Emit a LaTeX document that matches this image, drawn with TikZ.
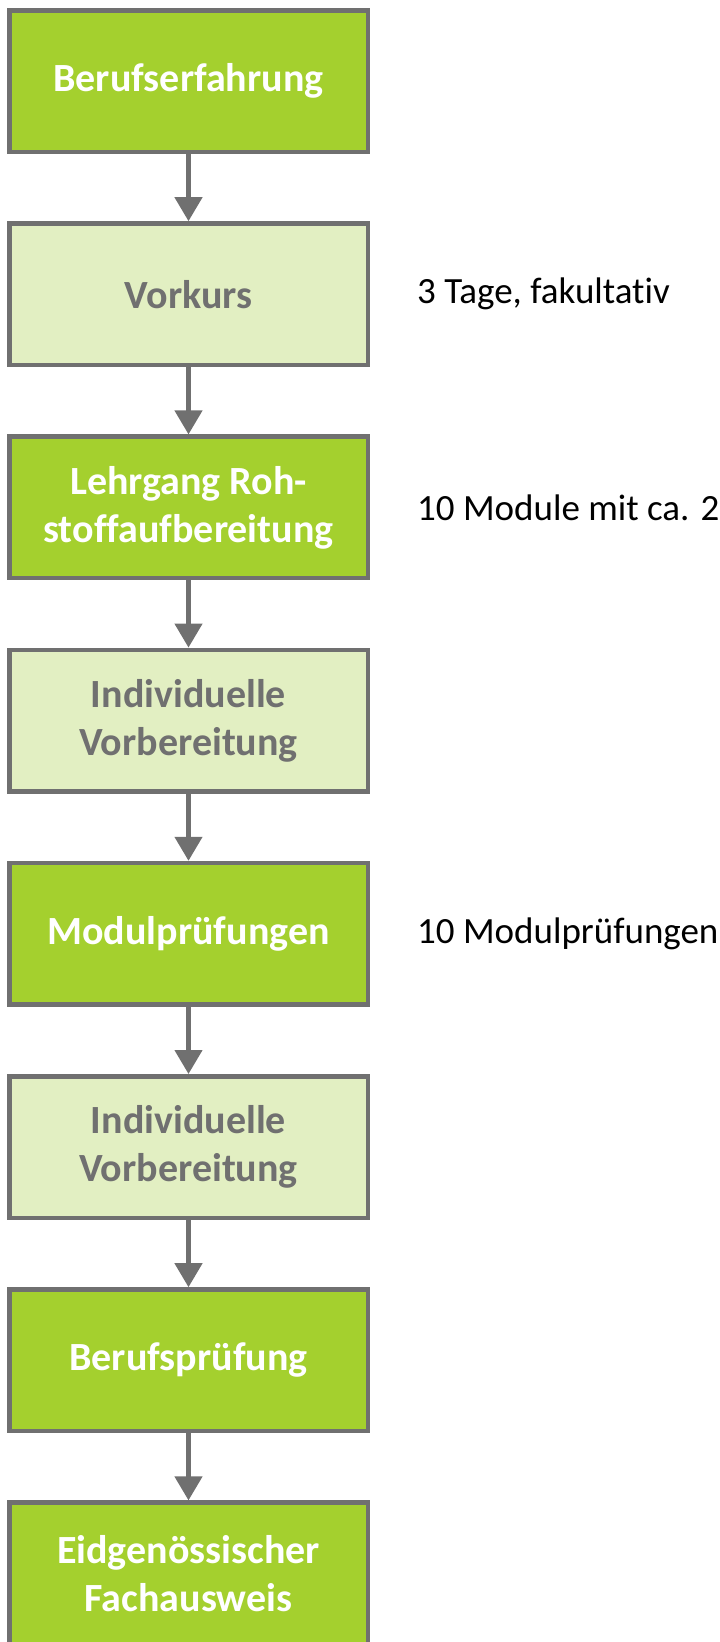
\documentclass[tikz,border=0pt]{standalone}
\usepackage{fontspec}
\setmainfont{Carlito}[Ligatures=NoCommon]
\usetikzlibrary{positioning, arrows.meta}
\definecolor{stepdark}{RGB}{164,208,46}
\definecolor{steplight}{RGB}{226,239,194}
\definecolor{stepgray}{RGB}{112,112,112}
\tikzstyle{darkbox} = [draw=stepgray, line width=4.5pt, fill=stepdark, text=white, minimum width=358.5pt, minimum height=141.5pt, inner sep=0pt, align=center, font=\fontsize{40}{48}\selectfont\bfseries]
\tikzstyle{lightbox} = [darkbox, fill=steplight, text=stepgray]
\tikzstyle{note} = [inner sep=0pt, font=\fontsize{37}{46}\selectfont]
\tikzstyle{flow} = [draw=stepgray, line width=4.5pt, -{Triangle[width=27pt, length=24pt]}]

\begin{document}
\begin{tikzpicture}[x=1pt, y=-1pt, node distance=213.2pt]
    \useasboundingbox (0,0) rectangle (720,1642);
    \clip (0,0) rectangle (720,1642);
    \node (beruf) [darkbox] at (188.5,81) {Berufserfahrung};
    \node (vorkurs) [lightbox, below of=beruf] {Vorkurs};
    \node (lehrgang) [darkbox, below of=vorkurs] {Lehrgang Roh-\\stoffaufbereitung};
    \node (vorb1) [lightbox, below of=lehrgang] {Individuelle\\Vorbereitung};
    \node (modul) [darkbox, below of=vorb1] {Modulprüfungen};
    \node (vorb2) [lightbox, below of=modul] {Individuelle\\Vorbereitung};
    \node (bp) [darkbox, below of=vorb2] {Berufsprüfung};
    \node (fa) [darkbox, below of=bp] {Eidgenössischer\\Fachausweis};
    \node (tage) [note, right=47pt of vorkurs] {3 Tage, fakultativ};
    \node (module) [note, right=47pt of lehrgang] {10 Module mit ca. 22};
    \node (pruef) [note, right=47pt of modul] {10 Modulprüfungen};
    \foreach \a/\b in {beruf/vorkurs, vorkurs/lehrgang, lehrgang/vorb1, vorb1/modul, modul/vorb2, vorb2/bp, bp/fa}
        \draw [flow] (\a) -- (\b);
\end{tikzpicture}
\end{document}
